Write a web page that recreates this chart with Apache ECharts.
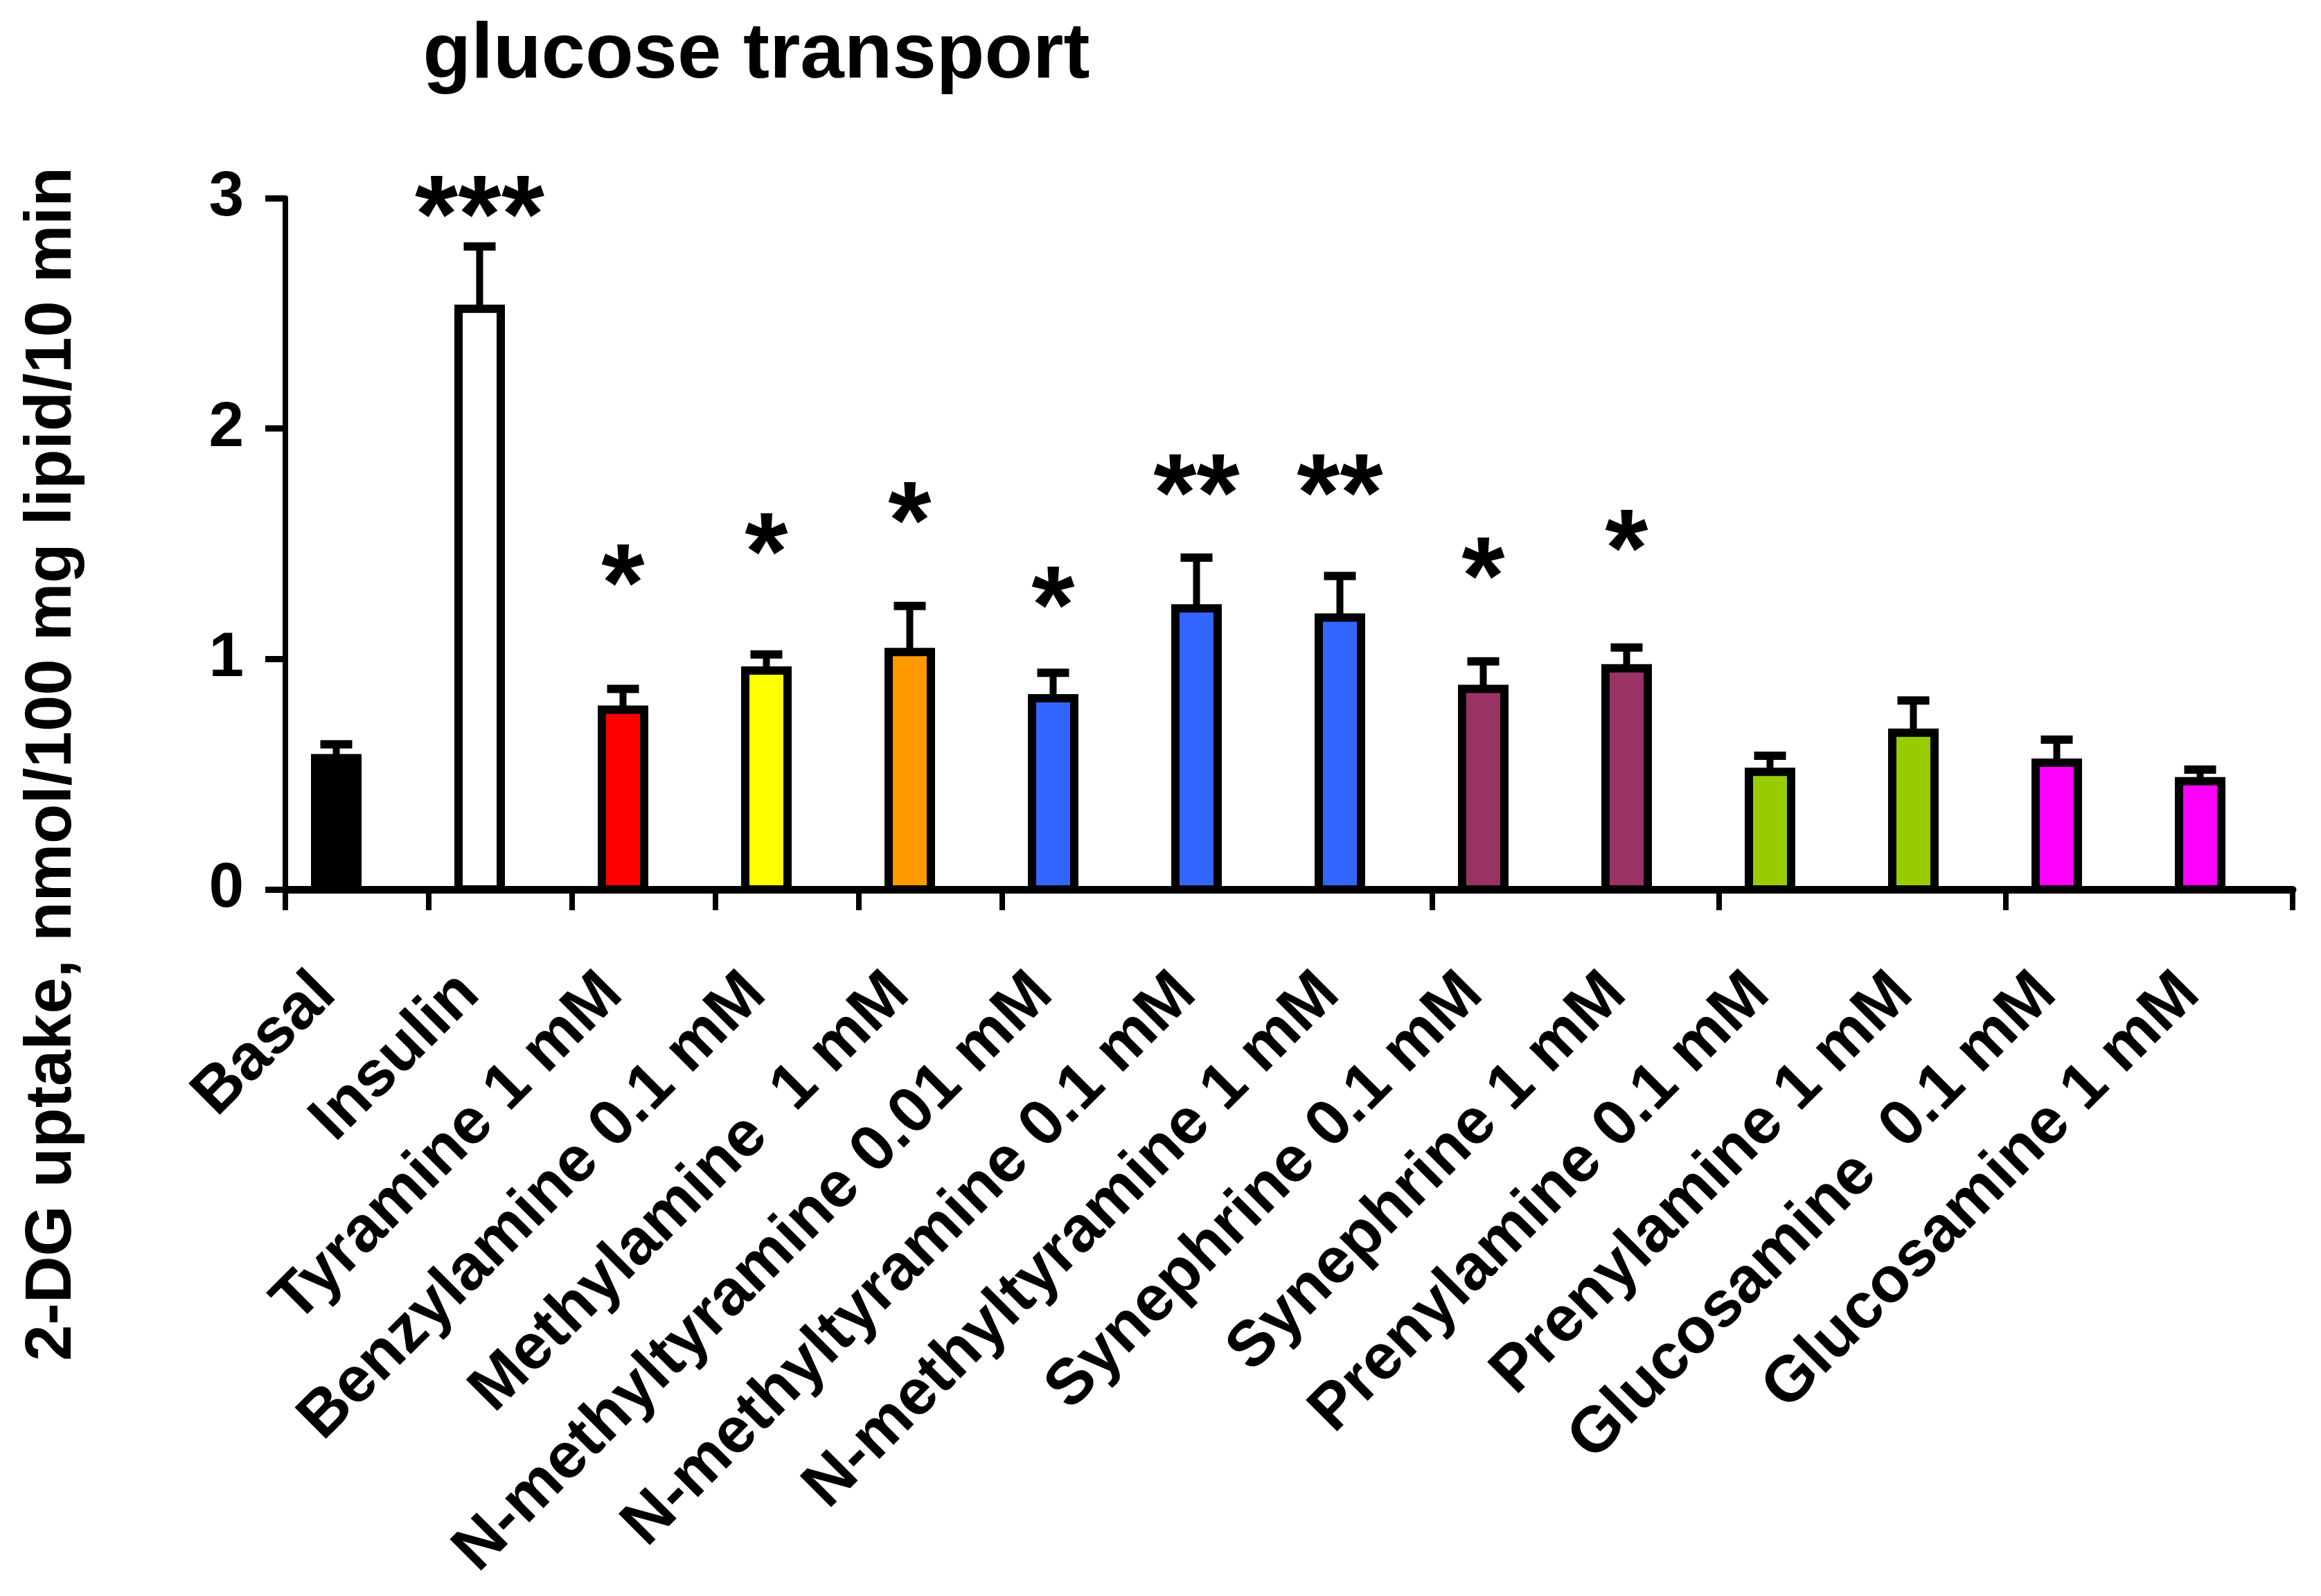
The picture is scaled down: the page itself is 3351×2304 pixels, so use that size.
<!DOCTYPE html>
<html><head><meta charset="utf-8">
<script src="https://cdn.jsdelivr.net/npm/echarts@6/dist/echarts.min.js"></script>
<style>html,body{margin:0;padding:0;background:#fff}#c{width:3351px;height:2304px}</style>
</head><body><div id="c"></div>
<script>
// ---- data ----
const categories = ['Basal','Insulin','Tyramine 1 mM','Benzylamine 0.1 mM','Methylamine  1 mM','N-methyltyramine 0.01 mM','N-methyltyramine 0.1 mM','N-methyltyramine 1 mM','Synephrine 0.1 mM','Synephrine 1 mM','Prenylamine 0.1 mM','Prenylamine 1 mM','Glucosamine  0.1 mM','Glucosamine 1 mM'];
const uptake = [0.57, 2.52, 0.78, 0.95, 1.03, 0.83, 1.22, 1.18, 0.87, 0.96, 0.51, 0.68, 0.55, 0.47];
const sem    = [0.06, 0.27, 0.09, 0.07, 0.20, 0.11, 0.22, 0.18, 0.12, 0.09, 0.07, 0.14, 0.10, 0.05];
const significance      = ['', '***', '*', '*', '*', '*', '**', '**', '*', '*', '', '', '', ''];
const significanceLevel = [0, 3.0, 1.40, 1.535, 1.67, 1.305, 1.79, 1.79, 1.43, 1.55, 0, 0, 0, 0];
const yTicks = [0, 1, 2, 3];
const titleText = 'glucose transport';
const yAxisTitle = '2-DG uptake, nmol/100 mg lipid/10 min';

// ---- styles ----
const barColors = ['#000000','#ffffff','#ff0000','#ffff00','#ff9900','#3366ff','#3366ff','#3366ff','#993366','#993366','#99cc00','#99cc00','#ff00ff','#ff00ff'];
const FONT = '"Liberation Sans", Arial, sans-serif';
const BAR_W = 61, BORDER = 12, SHIFT = -30, CAP_W = 46, CAP_T = 12, STEM_W = 10;
const STAR_FS = 160;
const TICK_AT = [0, 1, 2, 3, 4, 5, 8, 10, 12];

const chart = echarts.init(document.getElementById('c'), null, {renderer: 'canvas'});
chart.setOption({
  animation: false,
  backgroundColor: '#ffffff',
  grid: {left: 412, right: 41, top: 286, bottom: 1020, containLabel: false},
  xAxis: {
    type: 'category', data: categories, boundaryGap: true,
    axisLine: {lineStyle: {color: '#000', width: 11}},
    axisTick: {show: true, length: 30, lineStyle: {color: '#000', width: 8},
               interval: (idx) => TICK_AT.includes(idx)},
    axisLabel: {interval: 0, rotate: 45, margin: 91, padding: [0, 64, 0, 0], color: '#000',
                fontFamily: FONT, fontWeight: 'bold', fontSize: 93}
  },
  yAxis: {
    type: 'value', min: yTicks[0], max: yTicks[yTicks.length - 1], interval: 1,
    axisLine: {show: true, lineStyle: {color: '#000', width: 8}},
    axisTick: {show: true, length: 29, lineStyle: {color: '#000', width: 9}},
    splitLine: {show: false},
    axisLabel: {margin: 60, color: '#000', fontFamily: FONT, fontWeight: 'bold', fontSize: 91,
                padding: [22, 0, 0, 0]}
  },
  graphic: [
    {type: 'text', x: 1092, y: 81, style: {text: titleText, fill: '#000', font: 'bold 114px ' + FONT,
      align: 'center', verticalAlign: 'middle'}},
    {type: 'text', x: 76, y: 1103, rotation: Math.PI / 2, style: {text: yAxisTitle, fill: '#000',
      font: 'bold 94px ' + FONT, align: 'center', verticalAlign: 'middle'}}
  ],
  series: [
    {
      type: 'custom',
      data: uptake.map((v, i) => [i, v, sem[i]]),
      encode: {x: 0, y: 1},
      renderItem(params, api) {
        const i = api.value(0), v = api.value(1), e = api.value(2);
        const p0 = api.coord([i, 0]), p1 = api.coord([i, v]), p2 = api.coord([i, v + e]);
        const cx = p0[0] + SHIFT;
        return {type: 'group', children: [
          {type: 'line', shape: {x1: cx, y1: p1[1], x2: cx, y2: p2[1]}, style: {stroke: '#000', lineWidth: STEM_W}},
          {type: 'rect', shape: {x: cx - CAP_W / 2, y: p2[1] - CAP_T / 2, width: CAP_W, height: CAP_T}, style: {fill: '#000'}},
          {type: 'rect', shape: {x: cx - BAR_W / 2, y: p1[1], width: BAR_W, height: p0[1] - p1[1]},
           style: {fill: barColors[params.dataIndex], stroke: '#000', lineWidth: BORDER}}
        ]};
      }
    },
    {
      type: 'custom',
      data: significanceLevel.map((lv, i) => [i, lv]),
      encode: {x: 0, y: 1},
      renderItem(params, api) {
        const txt = significance[params.dataIndex];
        if (!txt) return null;
        const p = api.coord([api.value(0), api.value(1)]);
        return {type: 'text', x: p[0] + SHIFT, y: p[1] + 0.21 * STAR_FS,
          style: {text: txt, fill: '#000', font: 'bold ' + STAR_FS + 'px ' + FONT, align: 'center', verticalAlign: 'middle'}};
      }
    }
  ]
});
</script></body></html>
